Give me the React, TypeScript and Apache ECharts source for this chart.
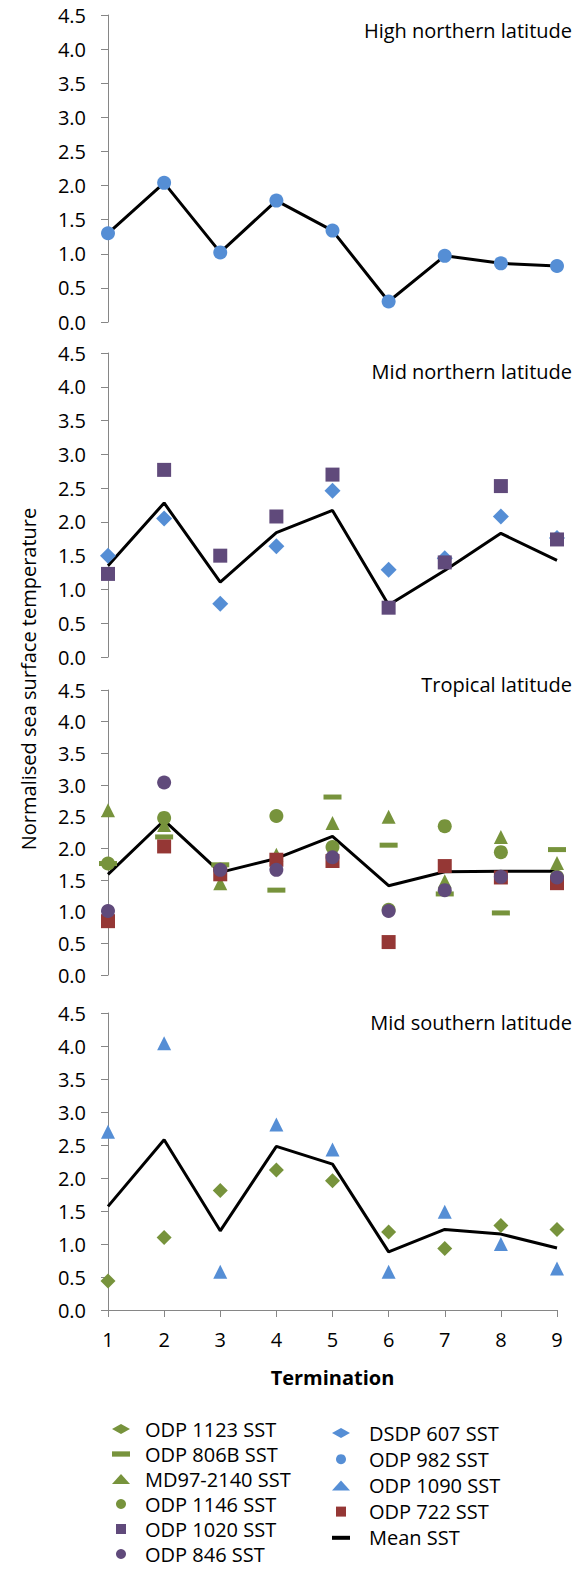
import React, { useEffect, useRef } from "react";
import * as echarts from "echarts";

const terminations = [1, 2, 3, 4, 5, 6, 7, 8, 9];
const yTicks = [0, 0.5, 1, 1.5, 2, 2.5, 3, 3.5, 4, 4.5];

// High northern latitude
const odp982 = [1.3, 2.04, 1.02, 1.78, 1.34, 0.3, 0.97, 0.86, 0.82];
const meanHighN = [1.3, 2.04, 1.02, 1.78, 1.34, 0.3, 0.97, 0.86, 0.82];

// Mid northern latitude
const dsdp607 = [1.5, 2.05, 0.79, 1.64, 2.46, 1.29, 1.46, 2.08, 1.76];
const odp1020 = [1.23, 2.77, 1.5, 2.08, 2.7, 0.73, 1.4, 2.53, 1.74];
const meanMidN = [1.35, 2.28, 1.11, 1.84, 2.17, 0.77, 1.28, 1.83, 1.43];

// Tropical latitude
const odp806B = [1.76, 2.18, 1.74, 1.34, 2.81, 2.05, 1.28, 0.98, 1.98];
const md972140 = [2.6, 2.37, 1.45, 1.9, 2.4, 2.5, 1.48, 2.18, 1.77];
const odp1146 = [1.76, 2.48, 1.66, 2.51, 2.02, 1.03, 2.35, 1.94, 1.55];
const odp846 = [1.01, 3.04, 1.66, 1.66, 1.86, 1.01, 1.34, 1.55, 1.54];
const odp722 = [0.85, 2.03, 1.59, 1.82, 1.8, 0.52, 1.72, 1.54, 1.45];
const meanTrop = [1.59, 2.44, 1.62, 1.84, 2.19, 1.41, 1.63, 1.64, 1.64];

// Mid southern latitude
const odp1123 = [0.44, 1.1, 1.81, 2.12, 1.96, 1.18, 0.93, 1.28, 1.22];
const odp1090 = [2.7, 4.04, 0.58, 2.81, 2.43, 0.58, 1.49, 1.0, 0.63];
const meanMidS = [1.57, 2.58, 1.2, 2.48, 2.21, 0.88, 1.22, 1.15, 0.94];

const panelTitles = [
  "High northern latitude",
  "Mid northern latitude",
  "Tropical latitude",
  "Mid southern latitude",
];

const FONT = "Open Sans";
const FS = 20;
const BLUE = "#558ED5";
const GREEN = "#77933C";
const PURPLE = "#604A7B";
const RED = "#953735";
const AXIS = "#868686";

const pts = (ys: number[]) => terminations.map((t, i) => [t, ys[i]]);

const grids = [
  { left: 108, width: 449, top: 15, height: 307 },
  { left: 108, width: 449, top: 353, height: 304 },
  { left: 108, width: 449, top: 690, height: 285 },
  { left: 108, width: 449, top: 1013, height: 297 },
];
const titleTops = [18, 359, 672, 1010];

export default function App() {
  const ref = useRef<HTMLDivElement>(null);
  useEffect(() => {
    document.body.style.margin = "0";
    const chart = echarts.init(ref.current!, null, { renderer: "svg" });

    const xAxes = grids.map((_, i) => ({
      type: "value",
      gridIndex: i,
      min: 1,
      max: 9,
      interval: 1,
      show: i === 3,
      axisLine: { show: true, lineStyle: { color: AXIS, width: 1 } },
      axisTick: { show: true, length: 7, lineStyle: { color: AXIS } },
      axisLabel: { color: "#000", fontSize: FS, fontFamily: FONT, margin: 19 },
      splitLine: { show: false },
      name: i === 3 ? "Termination" : "",
      nameLocation: "middle",
      nameGap: 57,
      nameTextStyle: { color: "#000", fontSize: FS, fontWeight: "bold", fontFamily: FONT },
    }));
    const yAxes = grids.map((_, i) => ({
      type: "value",
      gridIndex: i,
      min: yTicks[0],
      max: yTicks[yTicks.length - 1],
      interval: 0.5,
      axisLine: { show: true, lineStyle: { color: AXIS, width: 1 } },
      axisTick: { show: true, length: 7, lineStyle: { color: AXIS } },
      axisLabel: {
        color: "#000",
        fontSize: FS,
        fontFamily: FONT,
        margin: 22,
        formatter: (v: number) => v.toFixed(1),
      },
      splitLine: { show: false },
    }));

    const mean = (data: number[], gi: number) => ({
      name: "Mean SST",
      type: "line",
      xAxisIndex: gi,
      yAxisIndex: gi,
      data: pts(data),
      symbol: "none",
      lineStyle: { color: "#000", width: 3 },
      itemStyle: { color: "#000" },
      z: 2,
    });
    const sc = (name: string, data: number[], gi: number, symbol: string, size: any, color: string) => ({
      name,
      type: "scatter",
      xAxisIndex: gi,
      yAxisIndex: gi,
      data: pts(data),
      symbol,
      symbolSize: size,
      itemStyle: { color, opacity: 1 },
      z: 3,
    });

    const series = [
      mean(meanHighN, 0),
      mean(meanMidN, 1),
      mean(meanTrop, 2),
      mean(meanMidS, 3),
      sc("ODP 982 SST", odp982, 0, "circle", 14, BLUE),
      sc("DSDP 607 SST", dsdp607, 1, "diamond", 16, BLUE),
      sc("ODP 1020 SST", odp1020, 1, "rect", 14, PURPLE),
      sc("ODP 806B SST", odp806B, 2, "rect", [18, 5], GREEN),
      sc("MD97-2140 SST", md972140, 2, "triangle", 14, GREEN),
      sc("ODP 1146 SST", odp1146, 2, "circle", 14, GREEN),
      sc("ODP 722 SST", odp722, 2, "rect", 14, RED),
      sc("ODP 846 SST", odp846, 2, "circle", 14, PURPLE),
      sc("ODP 1123 SST", odp1123, 3, "diamond", 15, GREEN),
      sc("ODP 1090 SST", odp1090, 3, "triangle", 14, BLUE),
    ];

    const legendText = {
      fontFamily: FONT,
      fontSize: FS,
      lineHeight: 20,
      color: "#000",
    };
    const dashIcon = "path://M0,0h17v5h-17z";
    const lineIcon = "path://M0,0h18v4h-18z";
    const squareIcon = "path://M0,0h10v10h-10z";

    const option: any = {
      animation: false,
      backgroundColor: "#fff",
      grid: grids,
      xAxis: xAxes,
      yAxis: yAxes,
      title: panelTitles.map((t, i) => ({
        text: t,
        right: 7,
        top: titleTops[i],
        padding: 0,
        textStyle: { fontFamily: FONT, fontSize: FS, fontWeight: "normal", color: "#000", lineHeight: 24 },
      })),
      legend: [
        {
          orient: "vertical",
          left: 107,
          top: 1414,
          height: 220,
          itemWidth: 18,
          itemHeight: 10,
          itemGap: 5,
          selectedMode: false,
          textStyle: { ...legendText, padding: [0, 0, 0, 10] },
          data: [
            { name: "ODP 1123 SST", icon: "diamond" },
            { name: "ODP 806B SST", icon: dashIcon },
            { name: "MD97-2140 SST", icon: "triangle" },
            { name: "ODP 1146 SST", icon: "circle" },
            { name: "ODP 1020 SST", icon: squareIcon },
            { name: "ODP 846 SST", icon: "circle" },
          ],
        },
        {
          orient: "vertical",
          left: 327,
          top: 1418,
          height: 220,
          itemWidth: 18,
          itemHeight: 10,
          itemGap: 6.2,
          selectedMode: false,
          textStyle: { ...legendText, padding: [0, 0, 0, 14] },
          data: [
            { name: "DSDP 607 SST", icon: "diamond" },
            { name: "ODP 982 SST", icon: "circle" },
            { name: "ODP 1090 SST", icon: "triangle" },
            { name: "ODP 722 SST", icon: squareIcon },
            { name: "Mean SST", icon: lineIcon },
          ],
        },
      ],
      graphic: [
        {
          type: "text",
          x: 28,
          y: 679,
          rotation: Math.PI / 2,
          style: {
            text: "Normalised sea surface temperature",
            fontFamily: FONT,
            fontSize: FS,
            fill: "#000",
            align: "center",
            verticalAlign: "middle",
          },
        },
      ],
      series,
    };
    chart.setOption(option);
    return () => chart.dispose();
  }, []);
  return (
    <div
      ref={ref}
      style={{ position: "absolute", left: 0, top: 0, width: 579, height: 1569 }}
    />
  );
}
